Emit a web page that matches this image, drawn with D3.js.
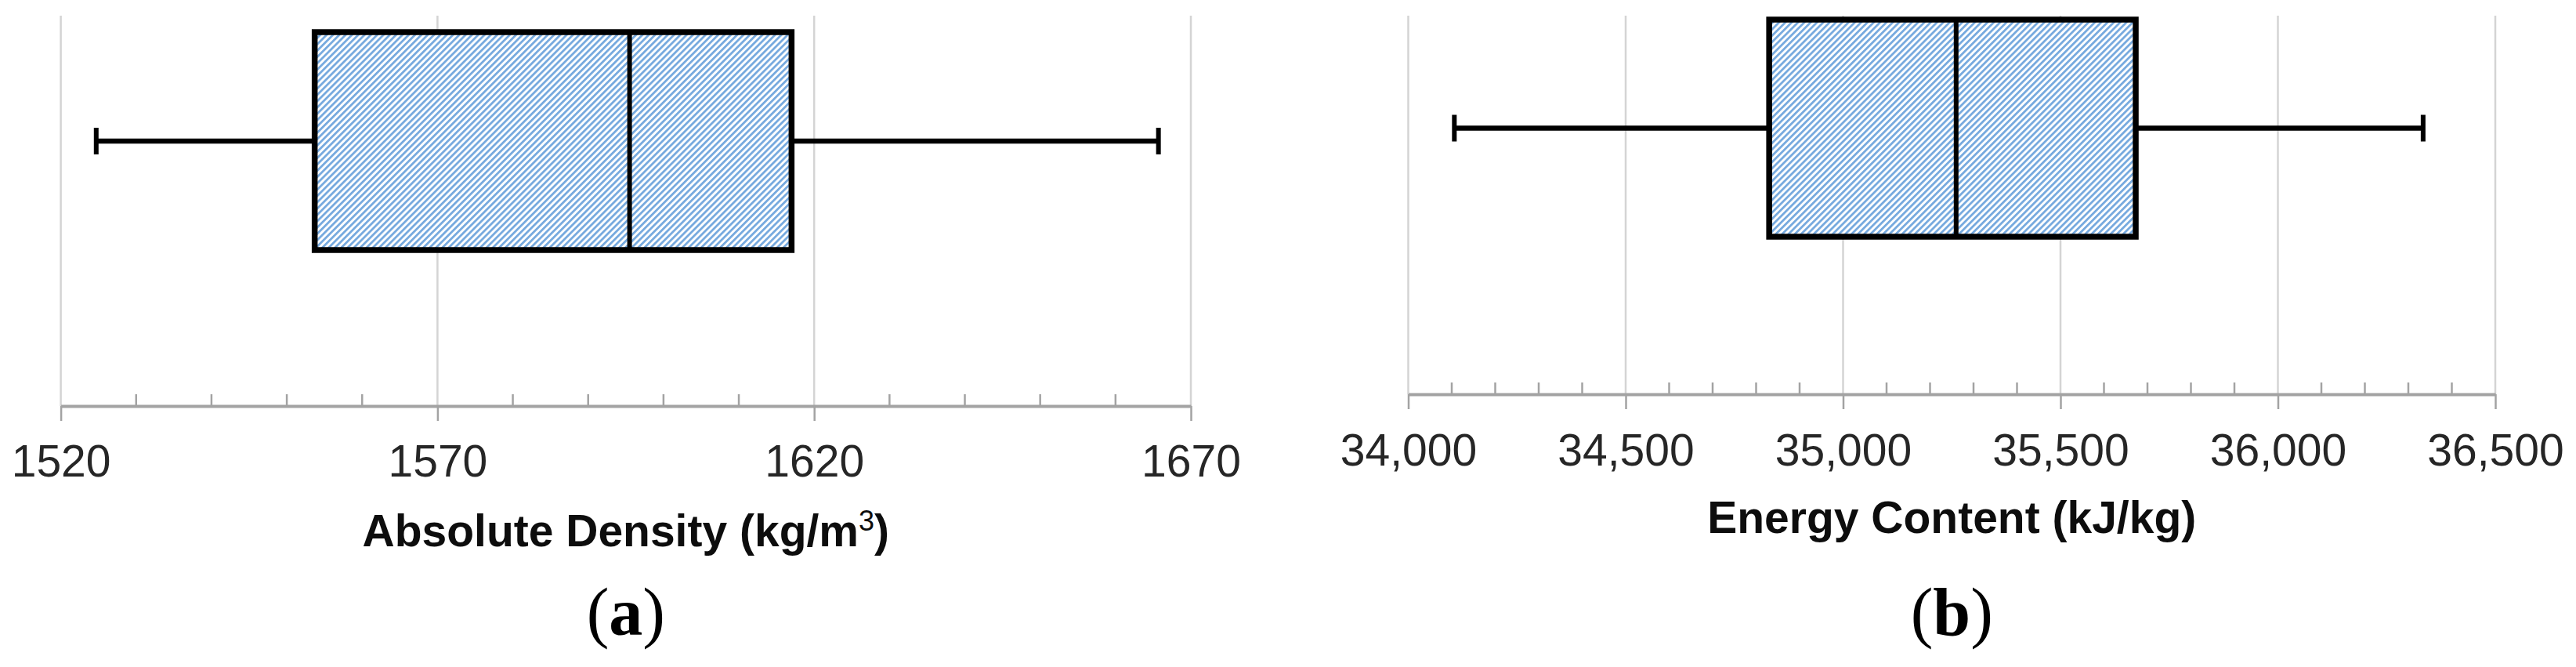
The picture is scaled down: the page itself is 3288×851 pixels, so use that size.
<!DOCTYPE html>
<html>
<head>
<meta charset="utf-8">
<script src="https://cdn.jsdelivr.net/npm/d3@7"></script>
<style>
  body { margin: 0; background: #fff; }
  svg { display: block; }
</style>
</head>
<body>
<script>
const WIDTH = 3288, HEIGHT = 851;

// box plot stats: min, q1, median, q3, max
const densityStats = [1524.7, 1553.7, 1595.5, 1617.0, 1665.7];
const energyStats = [34106, 34830, 35260, 35673, 36334];

const densityTicks = [1520, 1570, 1620, 1670];
const densityMinor = [1530, 1540, 1550, 1560, 1580, 1590, 1600, 1610, 1630, 1640, 1650, 1660];
const energyTicks = [34000, 34500, 35000, 35500, 36000, 36500];
const energyMinor = d3.range(34100, 36500, 100).filter(v => v % 500 !== 0);

const panelTags = ["a", "b"];

const svg = d3.select("body").append("svg")
    .attr("width", WIDTH)
    .attr("height", HEIGHT);

svg.append("rect").attr("width", WIDTH).attr("height", HEIGHT).attr("fill", "#fff");

// hatch like excel "wide upward diagonal"
const HP = 5.7;
const defs = svg.append("defs");
defs.append("pattern")
    .attr("id", "hatch")
    .attr("patternUnits", "userSpaceOnUse")
    .attr("width", HP)
    .attr("height", HP)
    .attr("patternTransform", "rotate(45)")
    .call(p => {
        p.append("rect").attr("width", HP).attr("height", HP).attr("fill", "#fff");
        p.append("rect").attr("width", HP * 0.48).attr("height", HP).attr("fill", "#74a8de");
    });

function drawPanel(cfg) {
    let x = d3.scaleLinear().domain(cfg.domain).range(cfg.range);
    let g = svg.append("g");
    let s = cfg.stats;
    let cy = (cfg.boxTop + cfg.boxBottom) / 2;

    // gridlines
    g.append("g").selectAll("line")
        .data(cfg.ticks)
        .join("line")
        .attr("x1", d => x(d)).attr("x2", d => x(d))
        .attr("y1", cfg.gridTop).attr("y2", cfg.axisY)
        .attr("stroke", "#d4d4d4")
        .attr("stroke-width", 2.5);

    // minor ticks (above axis)
    g.append("g").selectAll("line")
        .data(cfg.minor)
        .join("line")
        .attr("x1", d => x(d)).attr("x2", d => x(d))
        .attr("y1", cfg.axisY - 15).attr("y2", cfg.axisY)
        .attr("stroke", "#a3a3a3")
        .attr("stroke-width", 2.5);

    // axis
    let axis = d3.axisBottom(x)
        .tickValues(cfg.ticks)
        .tickSize(19)
        .tickSizeOuter(0)
        .tickFormat(cfg.format);
    let ax = g.append("g")
        .attr("transform", `translate(0,${cfg.axisY})`)
        .call(axis);
    ax.select(".domain").attr("stroke", "#a3a3a3").attr("stroke-width", 4);
    ax.selectAll(".tick line").attr("stroke", "#a3a3a3").attr("stroke-width", 2.5);
    ax.selectAll(".tick text")
        .attr("y", cfg.labelBaseline - cfg.axisY)
        .attr("dy", null)
        .attr("fill", "#262626")
        .style("font-family", "Arial, 'Liberation Sans', sans-serif")
        .style("font-size", "57px");

    // whiskers
    g.append("line")
        .attr("x1", x(s[0])).attr("x2", x(s[1]))
        .attr("y1", cy).attr("y2", cy)
        .attr("stroke", "#000").attr("stroke-width", 6.5);
    g.append("line")
        .attr("x1", x(s[3])).attr("x2", x(s[4]))
        .attr("y1", cy).attr("y2", cy)
        .attr("stroke", "#000").attr("stroke-width", 6.5);
    g.selectAll(".cap")
        .data([s[0], s[4]])
        .join("line")
        .attr("class", "cap")
        .attr("x1", d => x(d)).attr("x2", d => x(d))
        .attr("y1", cy - 17).attr("y2", cy + 17)
        .attr("stroke", "#000").attr("stroke-width", 6);

    // box
    g.append("rect")
        .attr("x", x(s[1]))
        .attr("y", cfg.boxTop)
        .attr("width", x(s[3]) - x(s[1]))
        .attr("height", cfg.boxBottom - cfg.boxTop)
        .attr("fill", "url(#hatch)")
        .attr("stroke", "#000")
        .attr("stroke-width", 7.5);
    g.append("line")
        .attr("x1", x(s[2])).attr("x2", x(s[2]))
        .attr("y1", cfg.boxTop).attr("y2", cfg.boxBottom)
        .attr("stroke", "#000").attr("stroke-width", 6);

    // axis title
    let cx = (cfg.range[0] + cfg.range[1]) / 2;
    let t = g.append("text")
        .attr("x", cx)
        .attr("y", cfg.titleBaseline)
        .attr("text-anchor", "middle")
        .attr("fill", "#0d0d0d")
        .style("font-family", "Arial, 'Liberation Sans', sans-serif")
        .style("font-weight", "bold")
        .style("font-size", "57px");
    cfg.title(t);

    // panel tag
    let tag = g.append("text")
        .attr("x", cx)
        .attr("y", 810)
        .attr("text-anchor", "middle")
        .attr("fill", "#000")
        .style("font-family", "'Liberation Serif', 'Times New Roman', serif")
        .style("font-size", "86px");
    tag.append("tspan").text("(");
    tag.append("tspan").style("font-weight", "bold").text(cfg.tag);
    tag.append("tspan").text(")");
}

drawPanel({
    domain: [1520, 1670],
    range: [77.6, 1520],
    stats: densityStats,
    ticks: densityTicks,
    minor: densityMinor,
    format: d3.format("d"),
    gridTop: 20,
    boxTop: 41,
    boxBottom: 319,
    axisY: 518,
    labelBaseline: 608,
    titleBaseline: 697,
    tag: panelTags[0],
    title: t => {
        t.append("tspan").text("Absolute Density (kg/m");
        t.append("tspan").attr("baseline-shift", "super").style("font-size", "36px").style("font-weight", "normal").text("3");
        t.append("tspan").text(")");
    }
});

drawPanel({
    domain: [34000, 36500],
    range: [1797.5, 3185],
    stats: energyStats,
    ticks: energyTicks,
    minor: energyMinor,
    format: d3.format(","),
    gridTop: 20,
    boxTop: 25,
    boxBottom: 302,
    axisY: 503,
    labelBaseline: 594,
    titleBaseline: 680,
    tag: panelTags[1],
    title: t => {
        t.append("tspan").text("Energy Content (kJ/kg)");
    }
});
</script>
</body>
</html>
